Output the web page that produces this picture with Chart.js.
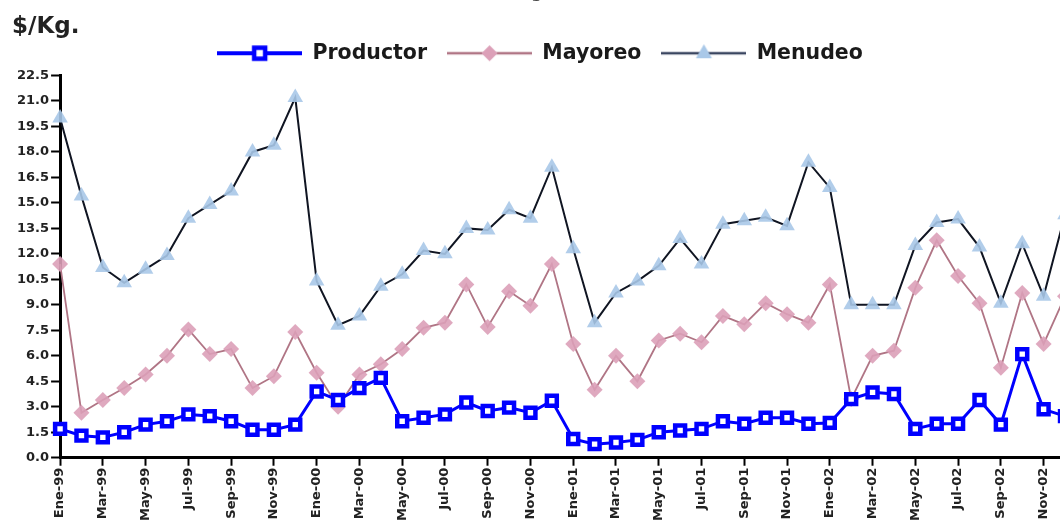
<!DOCTYPE html>
<html><head><meta charset="utf-8">
<script src="https://cdn.jsdelivr.net/npm/chart.js@4/dist/chart.umd.min.js"></script>
<style>
html,body{margin:0;padding:0;background:#fff;overflow:hidden;width:1060px;height:523px;}
#wrap{position:relative;width:1060px;height:523px;overflow:hidden;}
#c{position:absolute;left:0;top:0;}
#ytitle{position:absolute;left:12px;top:12px;font:bold 23px "DejaVu Sans";color:#222;}
#toptext{position:absolute;left:498px;top:-22px;font:20px "DejaVu Sans";color:#444;}
</style></head><body>
<div id="wrap"><canvas id="c" width="1085" height="523"></canvas>
<div id="ytitle">$/Kg.</div><div id="toptext">$/Kg</div></div>
<script>
const monthNames = ['Ene','Feb','Mar','Abr','May','Jun','Jul','Ago','Sep','Oct','Nov','Dic'];
const years = ['99','00','01','02'];
const categories = [];
years.forEach(y => monthNames.forEach(m => categories.push(m + '-' + y)));

const productor = [1.7,1.3,1.2,1.5,1.95,2.15,2.55,2.45,2.15,1.65,1.65,1.95,
  3.9,3.4,4.1,4.7,2.15,2.35,2.55,3.25,2.75,2.95,2.65,3.35,
  1.1,0.8,0.9,1.05,1.5,1.6,1.7,2.15,2.0,2.35,2.35,2.0,
  2.05,3.45,3.85,3.75,1.7,2.0,2.0,3.4,1.95,6.1,2.85,2.45];
const mayoreo = [11.4,2.65,3.4,4.1,4.9,6.0,7.55,6.1,6.4,4.1,4.8,7.4,
  5.0,3.0,4.9,5.5,6.4,7.65,7.95,10.2,7.7,9.8,8.95,11.4,
  6.7,4.0,6.0,4.5,6.9,7.3,6.8,8.35,7.85,9.1,8.45,7.95,
  10.2,3.45,6.0,6.3,10.0,12.8,10.7,9.1,5.3,9.7,6.7,9.5];
const menudeo = [20.0,15.4,11.2,10.3,11.1,11.9,14.1,14.9,15.7,18.0,18.4,21.2,
  10.4,7.8,8.35,10.1,10.8,12.2,12.0,13.5,13.4,14.6,14.1,17.1,
  12.3,7.95,9.7,10.4,11.3,12.9,11.4,13.75,13.95,14.15,13.65,17.4,
  15.9,9.0,9.0,9.0,12.5,13.85,14.05,12.4,9.1,12.6,9.5,14.3];
const seriesNames = ['Productor','Mayoreo','Menudeo'];
const yMin = 0, yMax = 22.5, yStep = 1.5;

function legendImg(kind){
  const w = 85, h = 24, c = document.createElement('canvas');
  c.width = w; c.height = h;
  const g = c.getContext('2d');
  const cy = h/2, cx = w/2;
  g.beginPath(); g.moveTo(0,cy); g.lineTo(w,cy);
  if(kind===0){g.strokeStyle='#0000ff';g.lineWidth=4;}
  else if(kind===1){g.strokeStyle='#b07585';g.lineWidth=2.5;}
  else {g.strokeStyle='#3a4660';g.lineWidth=2.5;}
  g.stroke();
  if(kind===0){
    g.fillStyle='#fff';g.fillRect(cx-6,cy-6,12,12);
    g.strokeStyle='#0000ff';g.lineWidth=4.5;g.strokeRect(cx-5.5,cy-5.5,11,11);
  } else if(kind===1){
    g.beginPath();g.moveTo(cx-8,cy);g.lineTo(cx,cy-8);g.lineTo(cx+8,cy);g.lineTo(cx,cy+8);g.closePath();
    g.fillStyle='#dca0b8';g.fill();
  } else {
    g.beginPath();g.moveTo(cx,cy-9);g.lineTo(cx+8,cy+5);g.lineTo(cx-8,cy+5);g.closePath();
    g.fillStyle='#a9c8e8';g.fill();
  }
  return c;
}
const legendImgs = [legendImg(0), legendImg(1), legendImg(2)];

const legendShift = {
  id:'legendShift',
  afterLayout(chart){
    const l = chart.legend;
    if(l){ l.top -= 2; l.bottom -= 2; }
  }
};

Chart.defaults.font.family = '"DejaVu Sans", sans-serif';
new Chart(document.getElementById('c'), {
  type: 'line',
  data: {
    labels: categories,
    datasets: [
      {label: seriesNames[0], data: productor, borderColor:'#0000ff', borderWidth:3,
       pointStyle:'rect', pointRadius:7, pointBorderWidth:4.5, pointBackgroundColor:'#ffffff', pointBorderColor:'#0000ff', tension:0},
      {label: seriesNames[1], data: mayoreo, borderColor:'#b07585', borderWidth:1.8,
       pointStyle:'rectRot', pointRadius:8, pointBorderWidth:0, pointBackgroundColor:'rgba(220,160,184,0.9)', pointBorderColor:'rgba(0,0,0,0)', tension:0},
      {label: seriesNames[2], data: menudeo, borderColor:'#101522', borderWidth:2,
       pointStyle:'triangle', pointRadius:9, pointBorderWidth:0, pointBackgroundColor:'rgba(169,200,232,0.9)', pointBorderColor:'rgba(0,0,0,0)', tension:0}
    ]
  },
  plugins:[legendShift],
  options: {
    responsive:false, animation:false,
    layout:{padding:{top:25,left:15,right:20,bottom:0}},
    plugins:{
      tooltip:{enabled:false},
      legend:{
        position:'top', align:'center',
        labels:{
          usePointStyle:true, pointStyleWidth:85, boxHeight:20, padding:20,
          color:'#1a1a1a', font:{size:20.5, weight:'bold'},
          generateLabels(chart){
            const items = Chart.defaults.plugins.legend.labels.generateLabels(chart);
            items.forEach((it,i)=>{ it.pointStyle = legendImgs[i]; });
            return items;
          }
        }
      }
    },
    scales:{
      x:{
        offset:false,
        border:{color:'#000',width:3},
        grid:{drawOnChartArea:false, tickLength:8, tickWidth:2,
          tickColor: ctx => (ctx.index % 2) ? 'rgba(0,0,0,0)' : '#000'},
        ticks:{autoSkip:false, maxRotation:90, minRotation:90, padding:2, color:'#222',
          font:{size:13, weight:'bold'},
          callback:(v,i)=> (i % 2 === 0) ? categories[i] : ''}
      },
      y:{
        min:yMin, max:yMax,
        border:{color:'#000',width:3},
        grid:{drawOnChartArea:false, tickLength:9, tickWidth:2, tickColor:'#000'},
        ticks:{stepSize:yStep, padding:2, color:'#222', font:{size:13, weight:'bold'},
          callback:v => Number(v).toFixed(1)}
      }
    }
  }
});
</script>
</body></html>
